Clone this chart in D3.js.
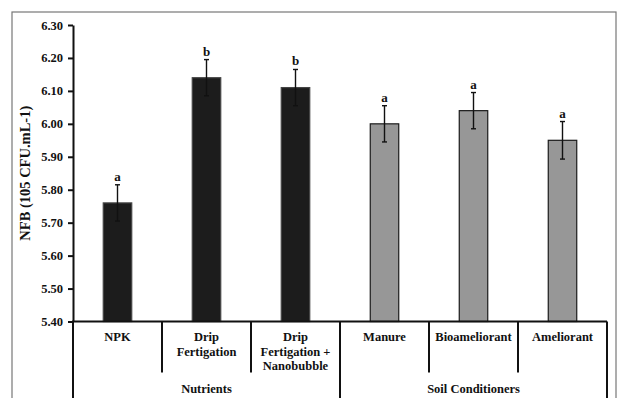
<!DOCTYPE html>
<html>
<head>
<meta charset="utf-8">
<script src="https://cdn.jsdelivr.net/npm/d3@7/dist/d3.min.js"></script>
<style>
  html, body { margin: 0; padding: 0; background: #fff; }
  svg { display: block; }
  text { font-family: "Liberation Serif", "Times New Roman", serif; font-weight: bold; fill: #111; }
</style>
</head>
<body>
<svg id="chart" width="617" height="398"></svg>
<script>
const categories = ["NPK", "Drip Fertigation", "Drip Fertigation + Nanobubble", "Manure", "Bioameliorant", "Ameliorant"];
const labelLines = [["NPK"], ["Drip", "Fertigation"], ["Drip", "Fertigation +", "Nanobubble"], ["Manure"], ["Bioameliorant"], ["Ameliorant"]];
const values = [5.76, 6.14, 6.11, 6.00, 6.04, 5.95];
const errors = [0.055, 0.055, 0.055, 0.055, 0.055, 0.057];
const letters = ["a", "b", "b", "a", "a", "a"];
const groups = ["Nutrients", "Soil Conditioners"];
const groupOf = ["Nutrients", "Nutrients", "Nutrients", "Soil Conditioners", "Soil Conditioners", "Soil Conditioners"];
const yTicks = [5.40, 5.50, 5.60, 5.70, 5.80, 5.90, 6.00, 6.10, 6.20, 6.30];
const yTitle = "NFB (105 CFU.mL-1)";
const groupColors = { "Nutrients": "#1c1c1c", "Soil Conditioners": "#979797" };

(function () {
const svg = d3.select("#chart");
const W = 617, H = 398;
const plotL = 73, plotR = 607, plotT = 25, axisY = 321.5;

// outer frame
svg.append("rect").attr("x", 12).attr("y", 12).attr("width", 604).attr("height", 420)
  .attr("fill", "none").attr("stroke", "#777").attr("stroke-width", 1.2);

const x = d3.scaleBand().domain(categories).range([plotL, plotR]).paddingInner(0).paddingOuter(0);
const y = d3.scaleLinear().domain([5.4, 6.3]).range([axisY, plotT]);
const bw = x.bandwidth() * 0.32;

// Y axis
const yAxis = d3.axisLeft(y).tickValues(yTicks).tickFormat(d3.format(".2f")).tickSize(5).tickSizeOuter(0);
const ya = svg.append("g").attr("transform", `translate(${plotL},0)`).call(yAxis);
ya.select(".domain").attr("stroke", "#111").attr("stroke-width", 2);
ya.selectAll(".tick line").attr("stroke", "#111").attr("stroke-width", 2);
ya.selectAll(".tick text").attr("x", -10).style("font-size", "12.5px")
  .style("font-family", "'Liberation Serif', serif").style("font-weight", "bold").attr("fill", "#111");

// Y title
svg.append("text").attr("transform", `translate(27,${(plotT + axisY) / 2}) rotate(-90)`)
  .attr("text-anchor", "middle").attr("dominant-baseline", "middle")
  .style("font-size", "14.5px").text(yTitle);

// bars
const g = svg.append("g");
g.selectAll("rect.bar").data(categories).enter().append("rect")
  .attr("class", "bar")
  .attr("x", (d) => x(d) + (x.bandwidth() - bw) / 2)
  .attr("y", (d, i) => y(values[i]))
  .attr("width", bw)
  .attr("height", (d, i) => axisY - y(values[i]))
  .attr("fill", (d, i) => groupColors[groupOf[i]])
  .attr("stroke", (d, i) => groupOf[i] === "Nutrients" ? "#444" : "#1a1a1a")
  .attr("stroke-width", 1.2);

// error bars
categories.forEach((c, i) => {
  const cx = x(c) + x.bandwidth() / 2;
  const y1 = y(values[i] + errors[i]), y0 = y(values[i] - errors[i]);
  g.append("line").attr("x1", cx).attr("x2", cx).attr("y1", y1).attr("y2", y0)
    .attr("stroke", "#111").attr("stroke-width", 1.4);
  [y1, y0].forEach(yy => g.append("line").attr("x1", cx - 2.5).attr("x2", cx + 2.5)
    .attr("y1", yy).attr("y2", yy).attr("stroke", "#111").attr("stroke-width", 1.4));
  g.append("text").attr("x", cx).attr("y", y1 - 4).attr("text-anchor", "middle")
    .style("font-size", "13px").text(letters[i]);
});

// X axis line
svg.append("line").attr("x1", plotL - 1).attr("x2", plotR).attr("y1", axisY).attr("y2", axisY)
  .attr("stroke", "#111").attr("stroke-width", 2);

// category dividers
const bounds = categories.map(c => x(c)).concat([plotR]);
bounds.forEach((bx, i) => {
  let tall = (i === 0 || i === bounds.length - 1);
  if (!tall && i < categories.length) tall = groupOf[i] !== groupOf[i - 1];
  svg.append("line").attr("x1", bx).attr("x2", bx).attr("y1", axisY).attr("y2", tall ? H : 372.5)
    .attr("stroke", "#111").attr("stroke-width", 2);
});

// category labels
categories.forEach((c, i) => {
  const cx = x(c) + x.bandwidth() / 2;
  const t = svg.append("text").attr("x", cx).attr("text-anchor", "middle").style("font-size", "12.5px");
  labelLines[i].forEach((ln, k) => {
    t.append("tspan").attr("x", cx).attr("y", 341 + k * 14.7).text(ln);
  });
});

// group labels
groups.forEach(gname => {
  const idx = categories.map((c, i) => i).filter(i => groupOf[i] === gname);
  const gx0 = x(categories[idx[0]]);
  const gx1 = x(categories[idx[idx.length - 1]]) + x.bandwidth();
  svg.append("text").attr("x", (gx0 + gx1) / 2).attr("y", 392.5).attr("text-anchor", "middle")
    .style("font-size", "12.5px").text(gname);
});
})();
</script>
</body>
</html>
